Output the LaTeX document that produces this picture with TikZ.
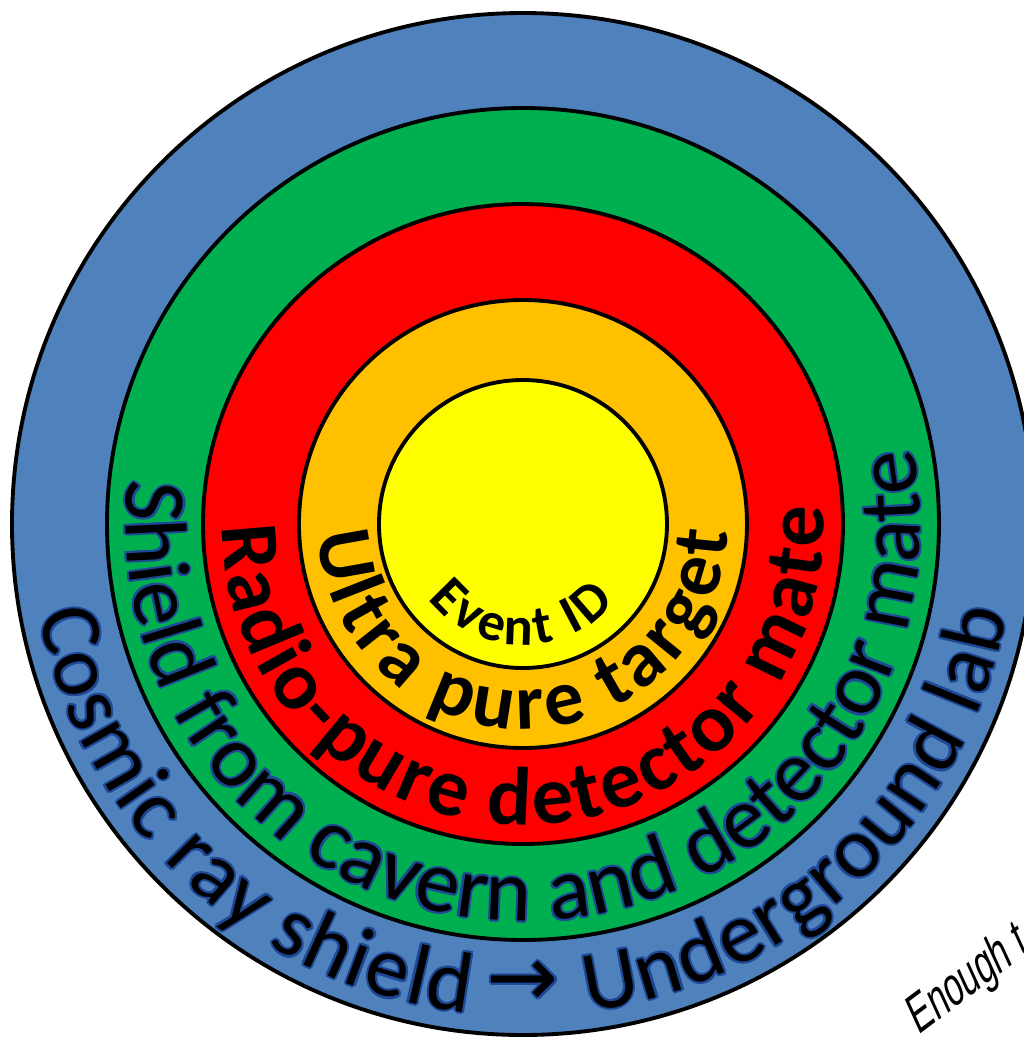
\documentclass[tikz,border=0pt]{standalone}
\usepackage{fontspec}
\setmainfont{Carlito}
\newfontfamily\arrowfont{DejaVu Sans}
\newfontfamily\handfont{Liberation Sans}[FakeSlant=0.22,FakeStretch=0.66]
\usetikzlibrary{decorations.text}

\definecolor{cosmicblue}{RGB}{79,129,189}
\definecolor{shieldgreen}{RGB}{0,176,80}
\definecolor{radiored}{RGB}{255,0,0}
\definecolor{targetorange}{RGB}{255,192,0}
\definecolor{eventyellow}{RGB}{255,255,0}
\definecolor{inkedge}{RGB}{30,72,150}

\tikzset{
  ring/.style={draw=black,line width=1.1pt},
  arclabel/.style={decorate,decoration={text along path,text align={fit to path},text={#1}}},
  arrowmark/.style={font=\arrowfont\fontsize{24.5}{29}\selectfont,inner sep=0pt}
}

\begin{document}
\begin{tikzpicture}
\useasboundingbox (-5.23,-5.14) rectangle (5.01,5.24);
\foreach \r/\c in {5.11/cosmicblue,4.16/shieldgreen,3.20/radiored,2.24/targetorange,1.44/eventyellow}
  \filldraw[ring,fill=\c] (0,0) circle (\r);
% labels run along the lower half of each ring
\path[arclabel={|\bfseries\fontsize{15.5}{18}\selectfont|Event ID}] (218.5:1.21) arc[start angle=218.5,end angle=319,radius=1.21];
\path[arclabel={|\bfseries\fontsize{22.5}{27}\selectfont|Ultra pure target}] (183:2.05) arc[start angle=183,end angle=358,radius=2.05];
\path[arclabel={|\bfseries\fontsize{23.5}{28}\selectfont|Radio-pure detector mate}] (180.5:3.01) arc[start angle=180.5,end angle=363.4,radius=3.01];
% outer two: blue edge from shifted copies, black letters on top
\foreach \dx/\dy/\ink in {0.6/0/inkedge,-0.6/0/inkedge,0/0.6/inkedge,0/-0.6/inkedge,0.42/0.42/inkedge,0.42/-0.42/inkedge,-0.42/0.42/inkedge,-0.42/-0.42/inkedge,0/0/black}{
  \begin{scope}[xshift=\dx pt,yshift=\dy pt]
  \path[arclabel={|\fontsize{25}{30}\selectfont\color{\ink}|Shield from cavern and detector mate}] (173.6:3.97) arc[start angle=173.6,end angle=371,radius=3.97];
  \path[arclabel={|\fontsize{24.5}{29}\selectfont\color{\ink}|Cosmic ray shield}] (190.5:4.92) arc[start angle=190.5,end angle=263.6,radius=4.92];
  \path[arclabel={|\fontsize{24.5}{29}\selectfont\color{\ink}|Underground lab}] (277.6:4.92) arc[start angle=277.6,end angle=349.6,radius=4.92];
  \node[arrowmark,text=\ink] (arrow) at (270:4.60) {→};
  \end{scope}
}
\node[font=\handfont\fontsize{15}{17}\selectfont,anchor=base west,rotate=37,inner sep=0pt] (note) at (3.95,-5.12) {Enough t};
\end{tikzpicture}
\end{document}
